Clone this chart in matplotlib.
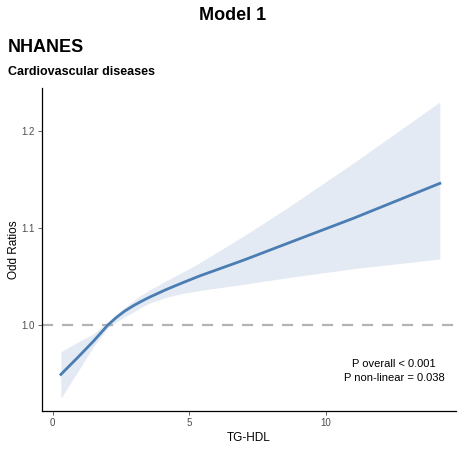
import matplotlib
matplotlib.use("Agg")
import matplotlib.pyplot as plt

plt.rcParams['font.family'] = ['Liberation Sans', 'DejaVu Sans']

tg_hdl = [0.3, 0.9, 1.5, 2.02, 2.32, 2.63, 2.93, 3.24, 3.54, 4.15, 4.76, 5.37, 7.0, 8.65, 11.0, 14.16]
odds = [0.949, 0.966, 0.9835, 1.0, 1.0075, 1.0142, 1.0195, 1.0243, 1.0286, 1.0365, 1.0436, 1.0505, 1.067, 1.0848, 1.110, 1.146]
upper = [0.9725, 0.982, 0.991, 1.003, 1.011, 1.0178, 1.0244, 1.0308, 1.036, 1.0455, 1.0545, 1.064, 1.092, 1.122, 1.167, 1.230]
lower = [0.9245, 0.951, 0.978, 0.997, 1.003, 1.0082, 1.0131, 1.0182, 1.0225, 1.0285, 1.0325, 1.0355, 1.042, 1.049, 1.058, 1.068]
x_ticks = [0, 5, 10]
y_ticks = [1.0, 1.1, 1.2]
y_ticklabels = ["1.0", "1.1", "1.2"]

fig = plt.figure(figsize=(4.6, 4.5), dpi=100)
ax = fig.add_axes([42/460, 1-411/450, (456-42)/460, (411-88)/450])

ax.fill_between(tg_hdl, lower, upper, color='#e4eaf3', lw=0)
ax.axhline(1.0, color='#b3b3b3', lw=1.6, ls=(0, (5, 4)))
ax.plot(tg_hdl, odds, color='#4a7db3', lw=2, solid_joinstyle='round')

ax.set_xlim(-0.39, 14.75)
ax.set_ylim(0.9113, 1.2443)
ax.set_xticks(x_ticks)
ax.set_yticks(y_ticks)
ax.set_yticklabels(y_ticklabels)
for s in ['top', 'right']:
    ax.spines[s].set_visible(False)
for s in ['left', 'bottom']:
    ax.spines[s].set_color('black')
    ax.spines[s].set_linewidth(0.9)
ax.tick_params(axis='both', colors='#4d4d4d', labelsize=7, length=3, width=0.6, pad=2)
ax.set_xlabel("TG-HDL", fontsize=8.5, color='black', labelpad=3)
ax.set_ylabel("Odd Ratios", fontsize=8.5, color='black')
ax.yaxis.set_label_coords((20-42)/414, 0.5)

ax.text(0.85, 0.124, "P overall < 0.001\nP non-linear = 0.038", transform=ax.transAxes,
        ha='center', va='center', fontsize=8, linespacing=1.5)

fig.text(233/460, 1-15/450, "Model 1", ha='center', va='center', fontsize=13, fontweight='bold')
fig.text(8/460, 1-47/450, "NHANES", ha='left', va='center', fontsize=13, fontweight='bold')
fig.text(8/460, 1-72/450, "Cardiovascular diseases", ha='left', va='center', fontsize=9, fontweight='bold')

fig.savefig("out.png", dpi=100)
